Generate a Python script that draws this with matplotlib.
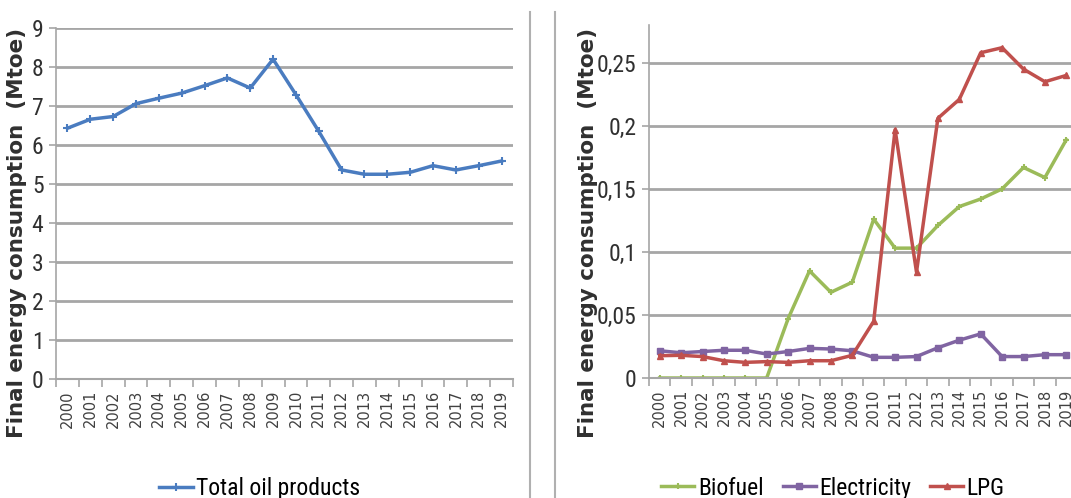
import matplotlib.pyplot as plt
from matplotlib.lines import Line2D
from matplotlib.ticker import FuncFormatter
import numpy as np

years = [str(y) for y in range(2000, 2020)]

total_oil = [6.43, 6.66, 6.73, 7.06, 7.20, 7.33, 7.52, 7.72, 7.46, 8.20,
             7.29, 6.35, 5.36, 5.25, 5.25, 5.30, 5.47, 5.36, 5.47, 5.59]

biofuel = [0, 0, 0, 0, 0, 0, 0.047, 0.085, 0.068, 0.076,
           0.126, 0.103, 0.103, 0.121, 0.136, 0.142, 0.150, 0.167, 0.159, 0.189]
electricity = [0.0216, 0.020, 0.021, 0.022, 0.022, 0.019, 0.021, 0.0235, 0.023, 0.0216,
               0.0164, 0.0164, 0.017, 0.024, 0.030, 0.035, 0.017, 0.017, 0.0185, 0.0185]
lpg = [0.0177, 0.018, 0.017, 0.0137, 0.0124, 0.013, 0.0124, 0.0137, 0.0137, 0.018,
       0.045, 0.197, 0.084, 0.206, 0.221, 0.258, 0.262, 0.245, 0.235, 0.240]

W, H = 1071, 498
fig = plt.figure(figsize=(W / 100, H / 100), dpi=100)

narrow = ['Roboto Condensed', 'Liberation Sans', 'DejaVu Sans']
grid_col = '#a6a6a6'


def setup(ax, ymax, yticks, fmt):
    x = np.arange(len(years))
    ax.set_xlim(-0.5, len(years) - 0.5)
    ax.set_ylim(0, ymax)
    ax.set_yticks(yticks)
    ax.yaxis.set_major_formatter(FuncFormatter(fmt))
    ax.set_xticks(np.arange(-0.5, len(years)), labels=[])
    ax.set_xticks(x, minor=True)
    ax.set_xticklabels(years, minor=True, rotation=90, fontsize=10.5,
                       family='DejaVu Sans', color='#404040')
    ax.tick_params(axis='x', which='major', length=6, color=grid_col, width=1.2)
    ax.tick_params(axis='x', which='minor', length=0, pad=8)
    ax.tick_params(axis='y', length=5, color=grid_col, width=1.2, pad=4,
                   labelsize=17, labelcolor='#303030')
    for lab in ax.get_yticklabels():
        lab.set_family(narrow)
    ax.grid(axis='y', color=grid_col, linewidth=2)
    ax.set_axisbelow(True)
    for s in ['top', 'right']:
        ax.spines[s].set_visible(False)
    ax.spines['left'].set_color(grid_col)
    ax.spines['bottom'].set_color(grid_col)
    ax.spines['left'].set_linewidth(1.2)
    ax.spines['bottom'].set_linewidth(1.5)
    ax.set_ylabel('Final energy consumption  (Mtoe)', fontsize=15.5,
                  fontweight='bold', color='#303030')
    return x


# left panel
ax1 = fig.add_axes([56 / W, 1 - 379 / H, (513 - 56) / W, (379 - 28) / H])
x = setup(ax1, 9, range(0, 10), lambda v, p: f'{v:.0f}')
ax1.plot(x, total_oil, color='#4a7cc0', linewidth=2.5, marker='+',
         markersize=6, markeredgewidth=1.5, label='Total oil products')
ax1.yaxis.set_label_coords(-0.063, 0.416)
ax1.legend(loc='center', bbox_to_anchor=(0.446, -0.312), frameon=False,
           prop={'family': narrow, 'size': 17}, handlelength=1.4,
           handletextpad=0.15)

# right panel
ax2 = fig.add_axes([649 / W, 1 - 378 / H, (1077 - 649) / W, (378 - 25) / H])
x = setup(ax2, 0.28, [0, 0.05, 0.1, 0.15, 0.2, 0.25],
          lambda v, p: ('0' if v == 0 else f'{v:g}'.replace('.', ',')))
ax2.plot(x, biofuel, color='#9bbb59', linewidth=2.5, marker='+',
         markersize=5, markeredgewidth=1.5, label='Biofuel')
ax2.plot(x, electricity, color='#8064a2', linewidth=2.5, marker='s',
         markersize=4, label='Electricity')
ax2.plot(x, lpg, color='#c0504d', linewidth=2.5, marker='^',
         markersize=4, label='LPG')
ax2.yaxis.set_label_coords(-0.119, 0.41)
ax2.legend(loc='center', bbox_to_anchor=(0.43, -0.312), frameon=False,
           ncol=3, prop={'family': narrow, 'size': 17}, handlelength=1.4,
           handletextpad=0.15, columnspacing=0.8)

# panel dividers
for xp in (530, 555):
    fig.add_artist(Line2D([xp / W, xp / W], [0, 1 - 12 / H],
                          color='#b0b0b0', linewidth=1.5))

fig.savefig('out.png', dpi=100)
